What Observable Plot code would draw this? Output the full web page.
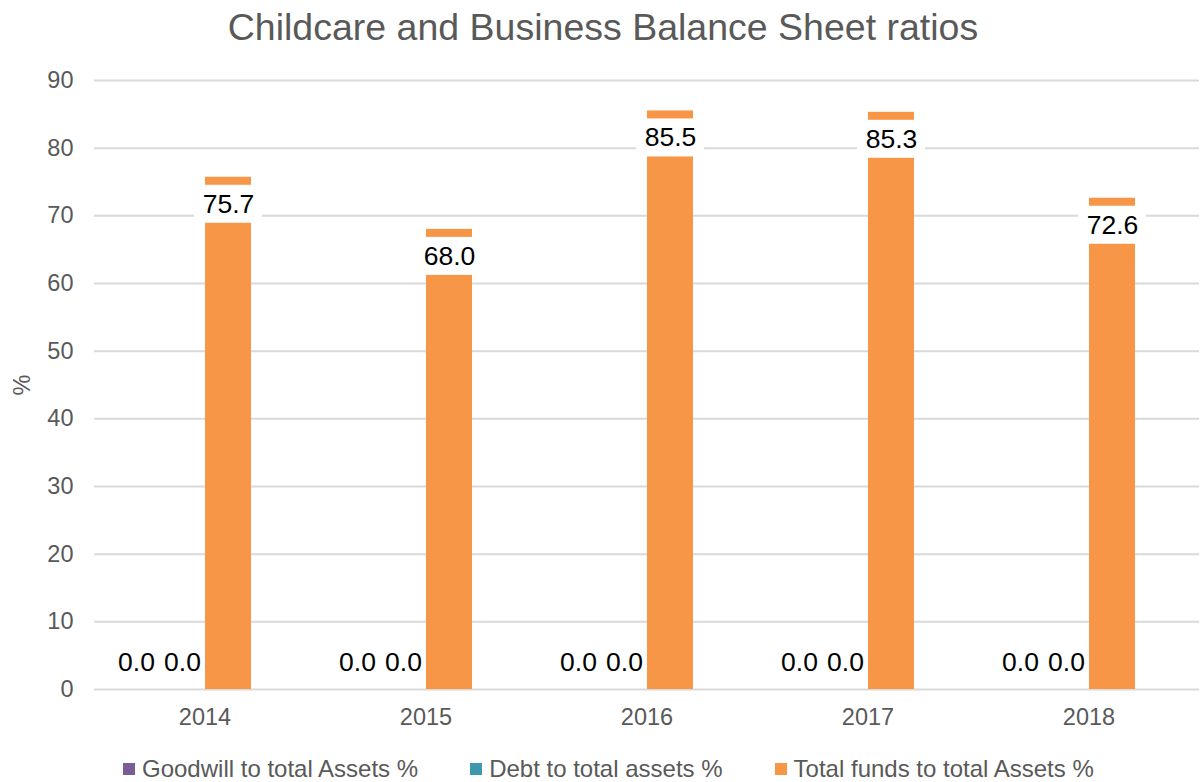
<!DOCTYPE html>
<html>
<head>
<meta charset="utf-8">
<script src="https://cdn.jsdelivr.net/npm/d3@7"></script>
<script src="https://cdn.jsdelivr.net/npm/@observablehq/plot@0.6"></script>
<style>
  html, body { margin: 0; padding: 0; background: #fff; }
  #wrap { position: relative; width: 1202px; height: 782px; font-family: "Liberation Sans", Arial, sans-serif; color: #595959; }
  #title { position: absolute; left: 0; top: 0; width: 1202px; text-align: center; font-size: 37.5px; line-height: 54px; padding-left: 4px; box-sizing: border-box; }
  #ylab { position: absolute; left: 22px; top: 385px; font-size: 23.5px; transform: translate(-50%, -50%) rotate(-90deg); }
  #legend { position: absolute; left: 123px; top: 756px; display: flex; gap: 52px; font-size: 24px; line-height: 26px; white-space: nowrap; }
  .item { display: flex; align-items: center; gap: 7px; }
  .sw { width: 12px; height: 12px; display: inline-block; }
  #chart { position: absolute; left: 0; top: 0; }
</style>
</head>
<body>
<div id="wrap">
  <div id="chart"></div>
  <div id="title">Childcare and Business Balance Sheet ratios</div>
  <div id="ylab">%</div>
  <div id="legend"></div>
</div>
<script>
const years = ["2014", "2015", "2016", "2017", "2018"];
const seriesNames = ["Goodwill to total Assets %", "Debt to total assets %", "Total funds to total Assets %"];
const seriesColors = ["#7a5c96", "#3f97ad", "#f79646"];
const goodwill = [0.0, 0.0, 0.0, 0.0, 0.0];
const debt = [0.0, 0.0, 0.0, 0.0, 0.0];
const funds = [75.7, 68.0, 85.5, 85.3, 72.6];
const yTicks = [0, 10, 20, 30, 40, 50, 60, 70, 80, 90];

const seriesValues = [goodwill, debt, funds];
const rows = [];
years.forEach((yr, i) => {
  seriesNames.forEach((s, j) => rows.push({year: yr, series: s, value: seriesValues[j][i]}));
});
const fundRows = rows.filter(d => d.series === seriesNames[2]);
const zeroRows = rows.filter(d => d.value === 0);

const chart = Plot.plot({
  width: 1202,
  height: 782,
  marginLeft: 92,
  marginRight: 2,
  marginTop: 80,
  marginBottom: 93,
  style: {fontFamily: '"Liberation Sans", Arial, sans-serif', fontSize: "23.5px", color: "#595959", background: "transparent"},
  fx: {domain: years, padding: 0, axis: "bottom", tickSize: 0, tickPadding: 19, label: null},
  x: {domain: [...seriesNames, " "], axis: null, paddingInner: 0, paddingOuter: 0.4},
  y: {domain: [0, 90], ticks: yTicks, tickSize: 0, tickPadding: 21, label: null},
  color: {domain: seriesNames, range: seriesColors},
  marks: [
    Plot.ruleY(yTicks, {stroke: "#d9d9d9", strokeWidth: 2}),
    Plot.barY(rows, {fx: "year", x: "series", y: "value", fill: "series"}),
    Plot.barY(fundRows, {fx: "year", x: "series", y1: "value", y2: "value", fill: "#fff", insetTop: 8, insetBottom: -46, insetLeft: -11, insetRight: -11}),
    Plot.text(fundRows, {fx: "year", x: "series", y: "value", text: d => d.value.toFixed(1), dy: 27, fontSize: 26.5, fill: "#000"}),
    Plot.text(zeroRows, {fx: "year", x: "series", y: "value", text: d => d.value.toFixed(1), dy: -27, fontSize: 26.5, fill: "#000"})
  ]
});
document.getElementById("chart").appendChild(chart);

const legend = document.getElementById("legend");
seriesNames.forEach((s, i) => {
  const it = document.createElement("div");
  it.className = "item";
  const sw = document.createElement("span");
  sw.className = "sw";
  sw.style.background = seriesColors[i];
  const tx = document.createElement("span");
  tx.textContent = s;
  it.appendChild(sw);
  it.appendChild(tx);
  legend.appendChild(it);
});
</script>
</body>
</html>
